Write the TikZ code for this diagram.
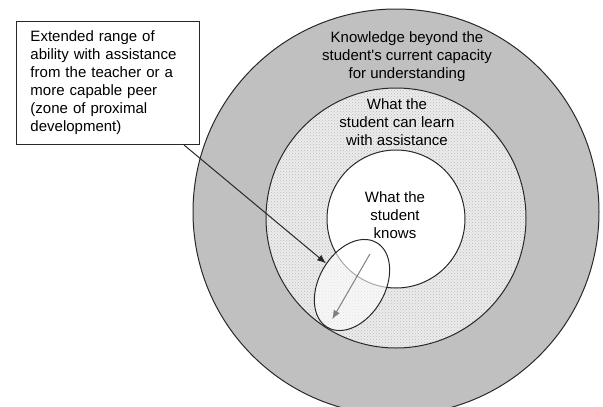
\documentclass[tikz,border=0pt]{standalone}
\usepackage{fontspec}
\setmainfont{Liberation Sans}
\usepackage{tikz}
\usetikzlibrary{shapes.geometric,patterns,arrows.meta,calc}

\definecolor{ringgray}{RGB}{192,192,192}
\definecolor{dotgray}{RGB}{236,236,236}
\definecolor{edgegray}{RGB}{40,40,40}

\tikzset{
	ring/.style={draw=edgegray, line width=1pt},
	ringtext/.style={align=center, font=\fontsize{15}{18}\selectfont, inner sep=0pt},
}

\begin{document}
\begin{tikzpicture}[x=1pt,y=-1pt]

	\useasboundingbox (0,0) rectangle (603,407);

	\coordinate (o) at (396,212);
	\coordinate (m) at (396,218);
	\coordinate (i) at (396,219);

	\draw[ring, fill=ringgray] (o) circle[radius=203];
	\fill[dotgray] (m) circle[radius=130];
	\path[pattern=crosshatch dots, pattern color=gray!55] (m) circle[radius=130];
	\draw[ring] (m) circle[radius=130];
	\draw[ring, fill=white] (i) circle[radius=69];

	\node[ringtext] (beyond) at (407,57) {Knowledge beyond the\\student\textquotesingle s current capacity\\for understanding};
	\node[ringtext] (assist) at (397,122) {What the\\student can learn\\with assistance};
	\node[ringtext] (knows) at (395,215) {What the\\student\\knows};

	\node[ring, ellipse, fill=white, fill opacity=0.6, rotate=60,
		minimum width=98, minimum height=66] (zone) at (352,285) {};
	\draw[gray, line width=1pt, -{Latex[length=9pt,width=7pt]}]
		($(zone.center)!0.72!(zone.east)$) -- ($(zone.center)!0.8!(zone.west)$);

	\node[ring, fill=white, anchor=north west, text width=155, align=left,
		inner xsep=14, minimum height=123, font=\fontsize{15}{18}\selectfont] (box) at (16,21)
		{Extended range of\\ability with assistance\\from the teacher or a\\more capable peer\\(zone of proximal\\development)};

	\draw[edgegray, line width=1pt, -{Latex[length=9pt,width=7pt]}] ([xshift=-16]box.south east) -- (zone);

\end{tikzpicture}
\end{document}
